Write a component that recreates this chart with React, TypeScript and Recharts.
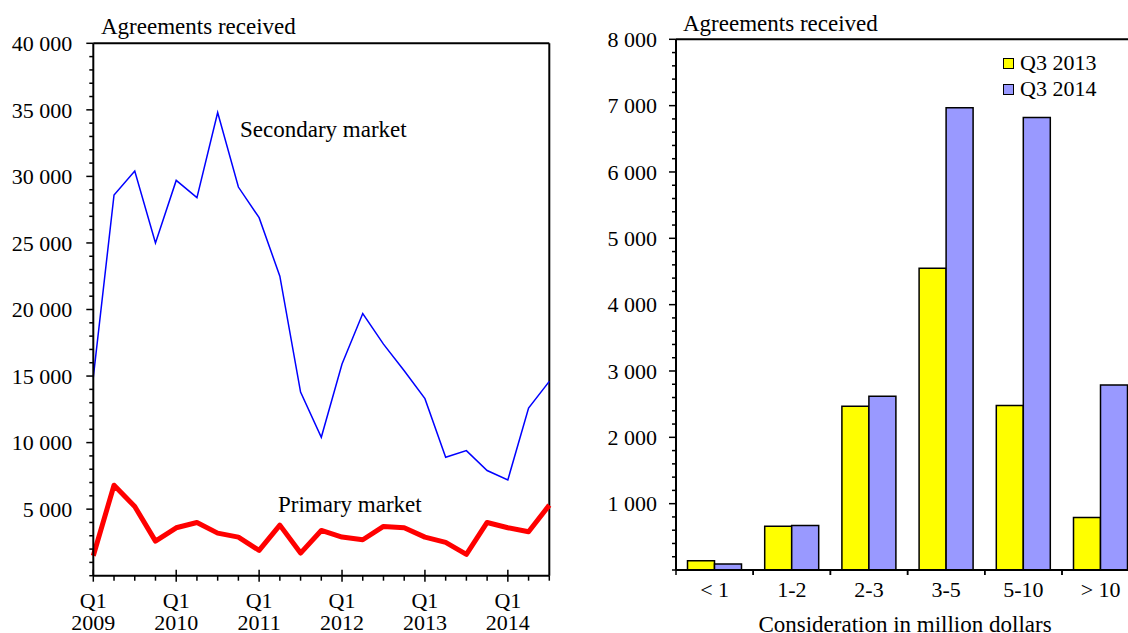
import React from 'react';
import { LineChart, Line, BarChart, Bar, XAxis, YAxis, ReferenceLine, Legend } from 'recharts';

const FONT = '"Liberation Serif", "Times New Roman", serif';

// left panel: agreements received per quarter
const quarters = [
  'Q1 2009', 'Q2 2009', 'Q3 2009', 'Q4 2009',
  'Q1 2010', 'Q2 2010', 'Q3 2010', 'Q4 2010',
  'Q1 2011', 'Q2 2011', 'Q3 2011', 'Q4 2011',
  'Q1 2012', 'Q2 2012', 'Q3 2012', 'Q4 2012',
  'Q1 2013', 'Q2 2013', 'Q3 2013', 'Q4 2013',
  'Q1 2014', 'Q2 2014', 'Q3 2014',
];
const secondary = [
  14900, 28600, 30400, 25000, 29700, 28400, 34800, 29200, 26900, 22500, 13800, 10400,
  15900, 19700, 17400, 15400, 13300, 8900, 9400, 7900, 7200, 12600, 14600,
];
const primary = [
  1500, 6800, 5200, 2600, 3600, 4000, 3200, 2900, 1900, 3800, 1700, 3400,
  2900, 2700, 3700, 3600, 2900, 2500, 1600, 4000, 3600, 3300, 5300,
];
const leftMajorTicks = [5000, 10000, 15000, 20000, 25000, 30000, 35000, 40000];

// right panel: by consideration size
const sizeBands = ['< 1', '1-2', '2-3', '3-5', '5-10', '> 10'];
const q3_2013 = [140, 660, 2470, 4550, 2480, 790];
const q3_2014 = [90, 670, 2620, 6970, 6820, 2790];
const rightMajorTicks = [1000, 2000, 3000, 4000, 5000, 6000, 7000, 8000];

const barColors: Record<string, string> = { 'Q3 2013': '#ffff00', 'Q3 2014': '#9999ff' };

const lineData = quarters.map((q, i) => ({ q, secondary: secondary[i], primary: primary[i] }));
const barData = sizeBands.map((cat, i) => ({ cat, a: q3_2013[i], b: q3_2014[i] }));

const leftTicks = Array.from({ length: 41 }, (_, i) => i * 1000);
const rightTicks = Array.from({ length: 41 }, (_, i) => i * 200);

const fmt = (v: number) => String(v).replace(/\B(?=(\d{3})+(?!\d))/g, ' ');

const textStyle = { fontFamily: FONT, fontSize: 22, fill: '#000' };

const makeYTick = (majors: number[], gap: number) => (props: any) => {
  const { x, y, payload } = props;
  const v = payload.value;
  const major = majors.includes(v);
  return (
    <g>
      <line x1={x - (major ? 7 : 4)} x2={x} y1={y} y2={y} stroke="#000" strokeWidth={1.5} />
      {major && (
        <text x={x - gap} y={y} dy="0.35em" textAnchor="end" style={textStyle}>
          {fmt(v)}
        </text>
      )}
    </g>
  );
};

const QuarterTick = (props: any) => {
  const { x, y, payload } = props;
  const [q, year] = String(payload.value).split(' ');
  const isQ1 = q === 'Q1';
  return (
    <g>
      <line x1={x} x2={x} y1={isQ1 ? y - 6 : y} y2={y + (isQ1 ? 6 : 5)} stroke="#000" strokeWidth={1.5} />
      {isQ1 && (
        <>
          <text x={x} y={y + 32} textAnchor="middle" style={textStyle}>{q}</text>
          <text x={x} y={y + 54} textAnchor="middle" style={textStyle}>{year}</text>
        </>
      )}
    </g>
  );
};

const BandTick = (props: any) => {
  const { x, y, payload } = props;
  const off = payload.offset || 38.6;
  return (
    <g>
      <line x1={x - off} x2={x - off} y1={y} y2={y + 5} stroke="#000" strokeWidth={1.5} />
      <line x1={x + off} x2={x + off} y1={y} y2={y + 5} stroke="#000" strokeWidth={1.5} />
      <text x={x} y={y + 27} textAnchor="middle" style={textStyle}>{payload.value}</text>
    </g>
  );
};

const renderLegend = (props: any) => {
  const { payload } = props;
  return (
    <div style={{ fontFamily: FONT, fontSize: 22, color: '#000' }}>
      {(payload || []).map((entry: any) => (
        <div key={entry.value} style={{ display: 'flex', alignItems: 'center', height: 26 }}>
          <span
            style={{
              display: 'inline-block',
              width: 9,
              height: 9,
              background: barColors[entry.value],
              border: '1.5px solid #000',
              marginRight: 6,
            }}
          />
          <span style={{ lineHeight: '26px' }}>{entry.value}</span>
        </div>
      ))}
    </div>
  );
};

export default function App() {
  return (
    <div
      style={{
        position: 'fixed',
        left: 0,
        top: 0,
        width: 1128,
        height: 633,
        overflow: 'hidden',
        background: '#fff',
      }}
    >
      <div style={{ position: 'absolute', left: 0, top: 0 }}>
        <LineChart width={600} height={633} data={lineData} margin={{ top: 43.3, right: 50.7, bottom: 0, left: 0 }}>
          <XAxis
            dataKey="q"
            height={57.3}
            interval={0}
            tick={<QuarterTick />}
            tickLine={false}
            tickSize={0}
            tickMargin={0}
            axisLine={{ stroke: '#000', strokeWidth: 2 }}
          />
          <YAxis
            width={93.3}
            domain={[0, 40000]}
            ticks={leftTicks}
            interval={0}
            tick={makeYTick(leftMajorTicks, 21)}
            tickLine={false}
            tickSize={0}
            tickMargin={0}
            axisLine={{ stroke: '#000', strokeWidth: 2 }}
          />
          <ReferenceLine y={40000} stroke="#000" strokeWidth={2} />
          <ReferenceLine x="Q3 2014" stroke="#000" strokeWidth={2} />
          <Line
            type="linear"
            dataKey="secondary"
            stroke="#0000ff"
            strokeWidth={1.5}
            dot={false}
            isAnimationActive={false}
          />
          <Line
            type="linear"
            dataKey="primary"
            stroke="#ff0000"
            strokeWidth={5}
            strokeLinejoin="round"
            dot={false}
            isAnimationActive={false}
          />
        </LineChart>
      </div>

      <div style={{ position: 'absolute', left: 600, top: 0 }}>
        <BarChart
          width={600}
          height={633}
          data={barData}
          margin={{ top: 39.3, right: 60.8, bottom: 0, left: 0 }}
          barCategoryGap={11.5}
          barGap={0}
        >
          <XAxis
            dataKey="cat"
            height={63}
            interval={0}
            tick={<BandTick />}
            tickLine={false}
            tickSize={0}
            tickMargin={0}
            axisLine={{ stroke: '#000', strokeWidth: 2 }}
          />
          <YAxis
            width={76}
            domain={[0, 8000]}
            ticks={rightTicks}
            interval={0}
            tick={makeYTick(rightMajorTicks, 19)}
            tickLine={false}
            tickSize={0}
            tickMargin={0}
            axisLine={{ stroke: '#000', strokeWidth: 2 }}
          />
          <ReferenceLine y={8000} stroke="#000" strokeWidth={2} />
          <Legend
            layout="vertical"
            align="center"
            verticalAlign="middle"
            content={renderLegend}
            wrapperStyle={{ left: 403, top: 50 }}
          />
          <Bar dataKey="a" name="Q3 2013" fill="#ffff00" stroke="#000" strokeWidth={1.5} isAnimationActive={false} />
          <Bar dataKey="b" name="Q3 2014" fill="#9999ff" stroke="#000" strokeWidth={1.5} isAnimationActive={false} />
        </BarChart>
      </div>

      <svg
        width={1128}
        height={633}
        style={{ position: 'absolute', left: 0, top: 0, pointerEvents: 'none' }}
      >
        <g style={{ fontFamily: FONT, fontSize: 23 }} fill="#000">
          <text x={101} y={34}>Agreements received</text>
          <text x={683} y={31}>Agreements received</text>
          <text x={240} y={137}>Secondary market</text>
          <text x={278} y={512}>Primary market</text>
          <text x={905} y={632} textAnchor="middle">Consideration in million dollars</text>
        </g>
      </svg>
    </div>
  );
}
